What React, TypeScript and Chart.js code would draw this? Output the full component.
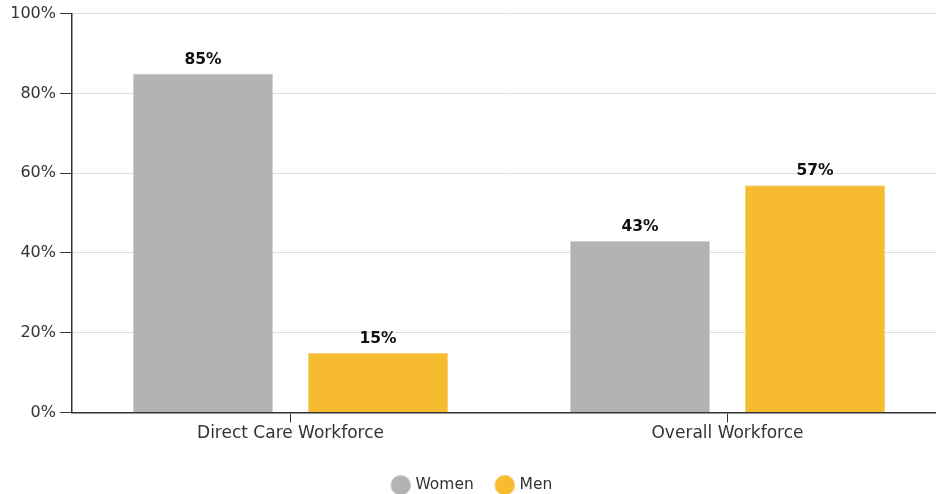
import React, { useEffect, useRef } from "react";
import { Chart, registerables } from "chart.js";

Chart.register(...registerables);

const categories = ["Direct Care Workforce", "Overall Workforce"];
const seriesNames = ["Women", "Men"];
const womenValues = [85, 43];
const menValues = [15, 57];
const yMax = 100;
const yStep = 20;

const FONT = "'DejaVu Sans', sans-serif";

const valueLabels = {
  id: "valueLabels",
  afterDatasetsDraw(chart: any) {
    const ctx = chart.ctx;
    ctx.save();
    ctx.font = `bold 15.5px ${FONT}`;
    ctx.fillStyle = "#111";
    ctx.textAlign = "center";
    ctx.textBaseline = "bottom";
    chart.data.datasets.forEach((ds: any, i: number) => {
      const meta = chart.getDatasetMeta(i);
      meta.data.forEach((el: any, j: number) => {
        ctx.fillText(ds.data[j] + "%", el.x, el.y - 6);
      });
    });
    ctx.restore();
  },
};

export default function App() {
  const ref = useRef<HTMLCanvasElement | null>(null);
  useEffect(() => {
    if (!ref.current) return;
    const chart = new Chart(ref.current, {
      type: "bar",
      data: {
        labels: categories,
        datasets: [
          {
            label: seriesNames[0],
            data: womenValues,
            backgroundColor: "#b3b3b3",
            borderColor: "#d2d2d2",
            borderWidth: 1,
            categoryPercentage: 0.801,
            barPercentage: 0.8,
          },
          {
            label: seriesNames[1],
            data: menValues,
            backgroundColor: "#f6bb2e",
            borderColor: "#f3d27f",
            borderWidth: 1,
            categoryPercentage: 0.801,
            barPercentage: 0.8,
          },
        ],
      },
      options: {
        animation: false,
        responsive: true,
        maintainAspectRatio: false,
        layout: { padding: { top: 4, right: 0, left: 0, bottom: -9 } },
        plugins: {
          tooltip: { enabled: false },
          legend: {
            position: "bottom",
            labels: {
              usePointStyle: true,
              pointStyle: "circle",
              boxWidth: 14,
              boxHeight: 14,
              padding: 24,
              color: "#333",
              font: { family: FONT, size: 15.5 },
            },
          },
        },
        scales: {
          x: {
            afterFit(scale: any) {
              scale.height = 41;
            },
            grid: {
              offset: false,
              drawOnChartArea: false,
              drawTicks: true,
              tickLength: 10,
              tickColor: "#333",
            },
            border: { color: "#333", width: 1.5 },
            ticks: { color: "#333", font: { family: FONT, size: 17 }, padding: 1 },
          },
          y: {
            min: 0,
            max: yMax,
            afterFit(scale: any) {
              scale.width = 72;
            },
            grid: { color: "#dedede", tickColor: "#333", tickLength: 12, lineWidth: 1 },
            border: { color: "#333", width: 1.5 },
            ticks: {
              stepSize: yStep,
              color: "#333",
              padding: 4,
              font: { family: FONT, size: 16 },
              callback: (v: any) => v + "%",
            },
          },
        },
      },
      plugins: [valueLabels],
    });
    return () => chart.destroy();
  }, []);
  return (
    <div style={{ position: "fixed", left: 0, top: 0, width: 946, height: 494, background: "#fff" }}>
      <canvas ref={ref} />
    </div>
  );
}
